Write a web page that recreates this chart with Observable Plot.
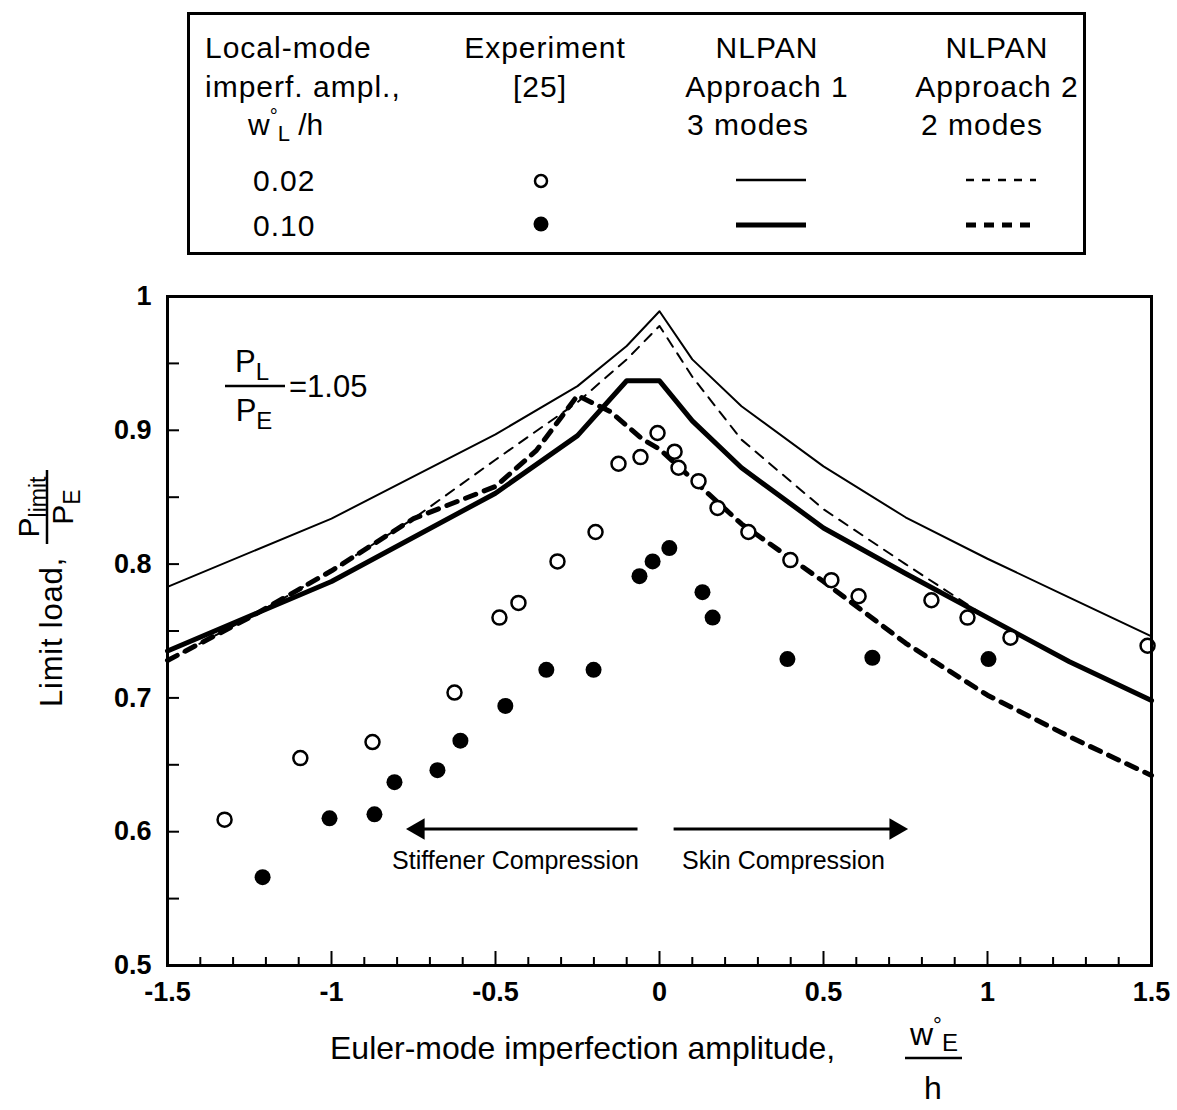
<!DOCTYPE html>
<html><head><meta charset="utf-8">
<script src="https://cdn.jsdelivr.net/npm/d3@7"></script>
<script src="https://cdn.jsdelivr.net/npm/@observablehq/plot@0.6"></script>
<style>
body{margin:0;background:#fff;}
#wrap{position:relative;width:1177px;height:1110px;font-family:"Liberation Sans",Arial,sans-serif;}
#legend{position:absolute;left:0;top:0;}
#chart{position:absolute;left:0;top:270px;}
</style></head><body>
<div id="wrap"><svg id="legend" width="1177" height="270"></svg><div id="chart"></div></div>
<script>
// ---------- data ----------
const xMajorTicks = [-1.5, -1, -0.5, 0, 0.5, 1, 1.5];
const xTickLabels = ["-1.5", "-1", "-0.5", "0", "0.5", "1", "1.5"];
const xMinorTicks = [-1.4,-1.3,-1.2,-1.1,-0.9,-0.8,-0.7,-0.6,-0.4,-0.3,-0.2,-0.1,0.1,0.2,0.3,0.4,0.6,0.7,0.8,0.9,1.1,1.2,1.3,1.4];
const yMajorTicks = [0.5, 0.6, 0.7, 0.8, 0.9, 1];
const yTickLabels = ["0.5", "0.6", "0.7", "0.8", "0.9", "1"];
const yMinorTicks = [0.55, 0.65, 0.75, 0.85, 0.95];

// Experiment, w_L/h = 0.02 (open circles)
const openX = [-1.326,-1.095,-0.875,-0.625,-0.488,-0.430,-0.311,-0.195,-0.125,-0.058,-0.006,0.046,0.058,0.119,0.177,0.271,0.399,0.524,0.607,0.829,0.939,1.070,1.488];
const openY = [0.609,0.655,0.667,0.704,0.760,0.771,0.802,0.824,0.875,0.880,0.898,0.884,0.872,0.862,0.842,0.824,0.803,0.788,0.776,0.773,0.760,0.745,0.739];
// Experiment, w_L/h = 0.10 (filled circles)
const filledX = [-1.210,-1.006,-0.869,-0.808,-0.677,-0.607,-0.470,-0.345,-0.201,-0.061,-0.021,0.030,0.131,0.162,0.390,0.649,1.003];
const filledY = [0.566,0.610,0.613,0.637,0.646,0.668,0.694,0.721,0.721,0.791,0.802,0.812,0.779,0.760,0.729,0.730,0.729];

// NLPAN Approach 1, 3 modes, 0.02 (thin solid)
const a1ThinX = [-1.5,-1.0,-0.5,-0.25,-0.1,0,0.1,0.25,0.5,0.75,1.0,1.25,1.5];
const a1ThinY = [0.783,0.834,0.897,0.933,0.963,0.989,0.953,0.918,0.873,0.835,0.804,0.775,0.746];
// NLPAN Approach 1, 3 modes, 0.10 (thick solid)
const a1ThickX = [-1.5,-1.0,-0.5,-0.25,-0.1,0,0.1,0.25,0.5,0.75,1.0,1.25,1.5];
const a1ThickY = [0.735,0.787,0.853,0.896,0.937,0.937,0.907,0.872,0.827,0.793,0.760,0.727,0.698];
// NLPAN Approach 2, 2 modes, 0.02 (thin dashed)
const a2ThinX = [-1.5,-1.25,-1.0,-0.75,-0.5,-0.25,-0.1,0,0.1,0.25,0.5,0.75,1.0,1.25,1.5];
const a2ThinY = [0.728,0.760,0.795,0.834,0.878,0.921,0.953,0.978,0.940,0.893,0.841,0.800,0.760,0.727,0.698];
// NLPAN Approach 2, 2 modes, 0.10 (thick dashed)
const a2ThickX = [-1.5,-1.25,-1.0,-0.75,-0.5,-0.375,-0.25,-0.15,-0.05,0,0.125,0.25,0.5,0.75,1.0,1.25,1.5];
const a2ThickY = [0.728,0.760,0.795,0.834,0.858,0.885,0.926,0.914,0.893,0.886,0.858,0.830,0.787,0.741,0.702,0.671,0.642];

const arrowNotes = [
  {x1: -0.067, x2: -0.735, y: 0.602},
  {x1: 0.043, x2: 0.72, y: 0.602}
];
const textNotes = [
  {x: -0.439, y: 0.578, text: "Stiffener Compression"},
  {x: 0.378, y: 0.578, text: "Skin Compression"}
];

// ---------- build ----------
const zip = (xs, ys) => xs.map((x, i) => ({x, y: ys[i]}));
const W = 1177, H = 840, mt = 26, mr = 26, mb = 145, ml = 167;
const yPerPx = 0.5 / (H - mt - mb);
const xPerPx = 3 / (W - ml - mr);
const FONT = "'Liberation Sans', Arial, Helvetica, sans-serif";

const plot = Plot.plot({
  width: W, height: H,
  marginTop: mt, marginRight: mr, marginBottom: mb, marginLeft: ml,
  style: {fontFamily: FONT, fontSize: "27px", background: "white", color: "black", overflow: "visible"},
  x: {domain: [-1.5, 1.5], axis: null},
  y: {domain: [0.5, 1], axis: null},
  marks: [
    Plot.line(zip(a1ThinX, a1ThinY), {x: "x", y: "y", stroke: "black", strokeWidth: 2}),
    Plot.line(zip(a2ThinX, a2ThinY), {x: "x", y: "y", stroke: "black", strokeWidth: 2, strokeDasharray: "10,8"}),
    Plot.line(zip(a2ThickX, a2ThickY), {x: "x", y: "y", stroke: "black", strokeWidth: 5, strokeDasharray: "11,9"}),
    Plot.line(zip(a1ThickX, a1ThickY), {x: "x", y: "y", stroke: "black", strokeWidth: 5}),
    Plot.dot(zip(openX, openY), {x: "x", y: "y", r: 7, stroke: "black", strokeWidth: 2.5, fill: "white"}),
    Plot.dot(zip(filledX, filledY), {x: "x", y: "y", r: 8, fill: "black", stroke: "none"}),
    Plot.link(arrowNotes, {x1: "x1", x2: "x2", y1: "y", y2: "y", stroke: "black", strokeWidth: 3}),
    Plot.dot(arrowNotes, {x: "x2", y: "y", symbol: "triangle", r: 8, fill: "black", stroke: "none", rotate: d => d.x2 < 0 ? -90 : 90}),
    Plot.text(textNotes, {x: "x", y: "y", text: "text", fontSize: 25, fill: "black"}),
    // ticks (inward)
    Plot.ruleX(xMajorTicks, {x: d => d, y1: 0.5, y2: 0.5 + 14 * yPerPx, stroke: "black", strokeWidth: 2}),
    Plot.ruleX(xMinorTicks, {x: d => d, y1: 0.5, y2: 0.5 + 8 * yPerPx, stroke: "black", strokeWidth: 2}),
    Plot.ruleY(yMajorTicks, {y: d => d, x1: -1.5, x2: -1.5 + 12 * xPerPx, stroke: "black", strokeWidth: 2}),
    Plot.ruleY(yMinorTicks, {y: d => d, x1: -1.5, x2: -1.5 + 12 * xPerPx, stroke: "black", strokeWidth: 2}),
    Plot.frame({stroke: "black", strokeWidth: 3}),
    Plot.axisX(xMajorTicks, {tickSize: 0, tickPadding: 16, tickFormat: d => xTickLabels[xMajorTicks.indexOf(d)], fontSize: 27, fontWeight: "bold", label: null}),
    Plot.axisY(yMajorTicks, {tickSize: 0, tickPadding: 16, tickFormat: d => yTickLabels[yMajorTicks.indexOf(d)], fontSize: 27, fontWeight: "bold", label: null})
  ]
});
document.getElementById("chart").appendChild(plot);

// ---------- axis titles and annotation (text) ----------
const svg = d3.select(plot);
// x title
const xt = svg.append("g").attr("font-family", FONT).attr("fill", "black").attr("text-anchor", "start");
xt.append("text").attr("x", 330).attr("y", 789).attr("font-size", 32).attr("text-anchor", "start").text("Euler-mode imperfection amplitude,");
const xf = xt.append("text").attr("x", 910).attr("y", 775).attr("font-size", 32).attr("text-anchor", "start");
xf.append("tspan").text("w");
xf.append("tspan").attr("font-size", 22).attr("dy", -12).text("°");
xf.append("tspan").attr("font-size", 24).attr("dx", 0).attr("dy", 18).text("E");
xt.append("line").attr("x1", 905).attr("x2", 962).attr("y1", 788).attr("y2", 788).attr("stroke", "black").attr("stroke-width", 2.5);
xt.append("text").attr("x", 933).attr("y", 829).attr("font-size", 32).attr("text-anchor", "middle").text("h");

// y title
const yt = svg.append("g").attr("font-family", FONT).attr("fill", "black");
yt.append("text").attr("transform", "translate(62,362) rotate(-90)").attr("font-size", 31).attr("letter-spacing", 0.8).attr("text-anchor", "middle").text("Limit load,");
const yf = yt.append("g").attr("transform", "translate(47,237) rotate(-90)");
const yn = yf.append("text").attr("x", 0).attr("y", -8).attr("font-size", 30).attr("text-anchor", "middle");
yn.append("tspan").text("P");
yn.append("tspan").attr("font-size", 23).attr("dy", 7).text("limit");
yf.append("line").attr("x1", -37).attr("x2", 37).attr("y1", 0).attr("y2", 0).attr("stroke", "black").attr("stroke-width", 2.5);
const yd = yf.append("text").attr("x", 0).attr("y", 26).attr("font-size", 30).attr("text-anchor", "middle");
yd.append("tspan").text("P");
yd.append("tspan").attr("font-size", 23).attr("dy", 7).text("E");

// P_L / P_E = 1.05
const an = svg.append("g").attr("font-family", FONT).attr("fill", "black");
const an1 = an.append("text").attr("x", 252).attr("y", 102).attr("font-size", 31).attr("text-anchor", "middle");
an1.append("tspan").text("P");
an1.append("tspan").attr("font-size", 24).attr("dy", 8).text("L");
an.append("line").attr("x1", 225).attr("x2", 285).attr("y1", 116).attr("y2", 116).attr("stroke", "black").attr("stroke-width", 2.5);
const an2 = an.append("text").attr("x", 254).attr("y", 151).attr("font-size", 31).attr("text-anchor", "middle");
an2.append("tspan").text("P");
an2.append("tspan").attr("font-size", 24).attr("dy", 8).text("E");
an.append("text").attr("x", 289).attr("y", 127).attr("font-size", 31).attr("text-anchor", "start").text("=1.05");

// ---------- legend ----------
const lg = d3.select("#legend").attr("font-family", FONT).attr("fill", "black");
lg.append("rect").attr("x", 188.5).attr("y", 13.5).attr("width", 896).attr("height", 240).attr("fill", "none").attr("stroke", "black").attr("stroke-width", 3);
const T = (x, y, s, anchor = "start") => lg.append("text").attr("x", x).attr("y", y).attr("font-size", 30).attr("letter-spacing", 1).attr("text-anchor", anchor).text(s);
T(205, 58, "Local-mode");
T(205, 97, "imperf. ampl.,");
const wl = lg.append("text").attr("x", 248).attr("y", 135).attr("font-size", 30);
wl.append("tspan").text("w");
wl.append("tspan").attr("font-size", 20).attr("dy", -12).text("°");
wl.append("tspan").attr("font-size", 22).attr("dx", 0).attr("dy", 18).text("L");
wl.append("tspan").attr("dy", -6).text(" /h");
T(253, 191, "0.02");
T(253, 236, "0.10");
T(545, 58, "Experiment", "middle");
T(540, 97, "[25]", "middle");
T(767, 58, "NLPAN", "middle");
T(767, 97, "Approach 1", "middle");
T(748, 135, "3 modes", "middle");
T(997, 58, "NLPAN", "middle");
T(997, 97, "Approach 2", "middle");
T(982, 135, "2 modes", "middle");
lg.append("circle").attr("cx", 541).attr("cy", 181).attr("r", 6).attr("fill", "white").attr("stroke", "black").attr("stroke-width", 2.5);
lg.append("circle").attr("cx", 541).attr("cy", 224).attr("r", 7.5).attr("fill", "black");
lg.append("line").attr("x1", 736).attr("x2", 806).attr("y1", 180).attr("y2", 180).attr("stroke", "black").attr("stroke-width", 2.5);
lg.append("line").attr("x1", 736).attr("x2", 806).attr("y1", 225).attr("y2", 225).attr("stroke", "black").attr("stroke-width", 5);
lg.append("line").attr("x1", 966).attr("x2", 1036).attr("y1", 180).attr("y2", 180).attr("stroke", "black").attr("stroke-width", 2.5).attr("stroke-dasharray", "8,8");
lg.append("line").attr("x1", 966).attr("x2", 1036).attr("y1", 225).attr("y2", 225).attr("stroke", "black").attr("stroke-width", 5).attr("stroke-dasharray", "10,8");
</script>
</body></html>
